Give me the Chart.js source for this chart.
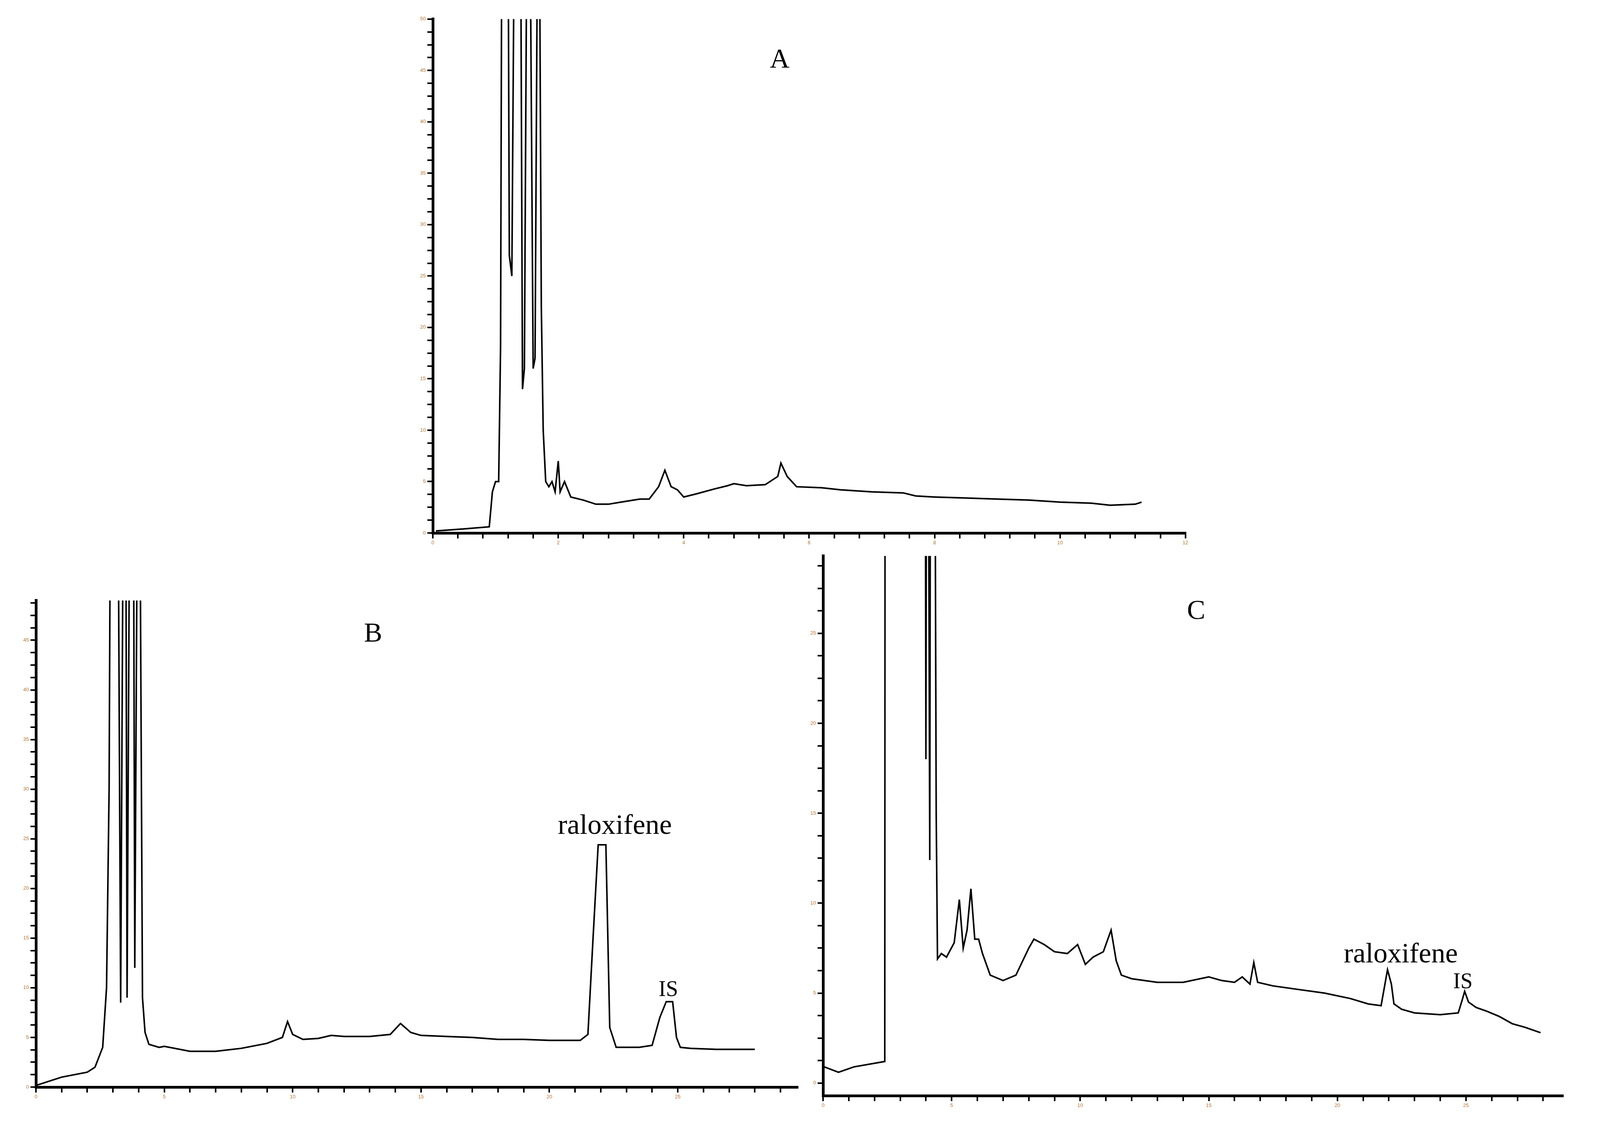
<!DOCTYPE html>
<html><head><meta charset="utf-8">
<script src="https://cdn.jsdelivr.net/npm/chart.js@4"></script>
<style>
body{margin:0;background:#fff;width:4135px;height:2897px;position:relative;overflow:hidden;font-family:"Liberation Serif","DejaVu Serif",serif}
.c{position:absolute}
.t{position:absolute;color:#000;font-family:"Liberation Serif",serif;transform:translate(-50%,-50%);white-space:nowrap}
</style></head><body>
<div class="c" id="wA"><canvas id="cA"></canvas></div>
<div class="c" id="wB"><canvas id="cB"></canvas></div>
<div class="c" id="wC"><canvas id="cC"></canvas></div>
<div class="t" style="left:1996px;top:150px;font-size:70px">A</div>
<div class="t" style="left:955px;top:1619px;font-size:70px">B</div>
<div class="t" style="left:3062px;top:1561px;font-size:70px">C</div>
<div class="t" style="left:1574px;top:2110px;font-size:72px">raloxifene</div>
<div class="t" style="left:1711px;top:2530px;font-size:56px">IS</div>
<div class="t" style="left:3586px;top:2439px;font-size:72px">raloxifene</div>
<div class="t" style="left:3745px;top:2510px;font-size:56px">IS</div>
<script>
const aX=[0.05,0.5,0.9,0.95,1.0,1.05,1.08,1.1,1.2,1.22,1.26,1.3,1.4,1.43,1.46,1.5,1.55,1.6,1.63,1.67,1.7,1.73,1.76,1.8,1.85,1.9,1.95,2.0,2.03,2.1,2.2,2.4,2.6,2.8,3.0,3.3,3.45,3.6,3.7,3.8,3.9,4.0,4.2,4.5,4.7,4.8,5.0,5.3,5.5,5.55,5.65,5.8,6.2,6.5,7.0,7.5,7.7,8.0,8.5,9.0,9.5,10.0,10.5,10.8,11.2,11.3];
const aY=[0.2,0.4,0.6,4,5,5,18,60,60,27,25,60,60,14,16,60,60,16,17,60,60,22,10,5,4.5,5,4,7,4,5,3.5,3.2,2.8,2.8,3.0,3.3,3.3,4.5,6.1,4.5,4.2,3.5,3.8,4.3,4.6,4.8,4.6,4.7,5.5,6.8,5.5,4.5,4.4,4.2,4.0,3.9,3.6,3.5,3.4,3.3,3.2,3.0,2.9,2.7,2.8,3.0];
const bX=[0.05,1,2,2.3,2.6,2.75,2.85,2.9,3.2,3.3,3.4,3.5,3.55,3.65,3.8,3.85,3.95,4.05,4.15,4.25,4.4,4.8,5,6,7,8,9,9.6,9.8,10.0,10.4,11,11.5,12,13,13.8,14.2,14.6,15,16,17,18,19,20,21.2,21.5,21.7,21.9,22.2,22.35,22.6,22.9,23.5,24.0,24.3,24.55,24.8,24.95,25.1,25.5,26.5,27,28.0];
const bY=[0.2,1,1.5,2,4,10,30,60,60,8.5,60,60,9,60,60,12,60,60,9,5.5,4.3,4.0,4.1,3.6,3.6,3.9,4.4,5,6.6,5.3,4.8,4.9,5.2,5.1,5.1,5.3,6.4,5.5,5.2,5.1,5.0,4.8,4.8,4.7,4.7,5.3,15,24.4,24.4,6,4.0,4.0,4.0,4.2,7,8.6,8.6,5,4.0,3.9,3.8,3.8,3.8];
const cX=[0.05,0.6,1.2,2.4,2.42,3.95,4.0,4.05,4.15,4.2,4.3,4.4,4.45,4.6,4.8,5.1,5.3,5.45,5.6,5.75,5.9,6.05,6.2,6.5,7.0,7.5,8.0,8.2,8.6,9.0,9.5,9.9,10.2,10.5,10.9,11.2,11.4,11.6,12,13,14,15,15.5,16,16.3,16.6,16.75,16.9,17.5,18.5,19.5,20.5,21.2,21.7,21.85,21.95,22.1,22.2,22.5,23,24,24.7,24.85,24.95,25.1,25.4,25.8,26.3,26.8,27.3,27.9];
const cY=[0.9,0.6,0.9,1.2,60,60,18,60,12.4,60,60,15,6.9,7.2,7.0,7.8,10.2,7.5,8.5,10.8,8,8.0,7.2,6.0,5.7,6.0,7.5,8.0,7.7,7.3,7.2,7.7,6.6,7.0,7.3,8.5,6.8,6.0,5.8,5.6,5.6,5.9,5.7,5.6,5.9,5.5,6.7,5.6,5.4,5.2,5.0,4.7,4.4,4.3,5.5,6.3,5.5,4.4,4.1,3.9,3.8,3.9,4.6,5.1,4.5,4.2,4.0,3.7,3.3,3.1,2.8];

const YW=60, XH=60;
function place(id,l,t,w,h){const e=document.getElementById(id);e.style.left=(l-YW)+'px';e.style.top=t+'px';e.style.width=(w+YW)+'px';e.style.height=(h+XH)+'px';}
place('wA',1108,37,1938,1327);
place('wB',92,1525,1952,1257);
place('wC',2107,1411,1896,1393);

function axis(min,max,minorStep,labelStep,isY){
  return {type:'linear',min:min,max:max,
    afterFit:s=>{if(isY)s.width=YW;else s.height=XH;},
    afterBuildTicks:s=>{const t=[];const start=Math.ceil((min-1e-9)/minorStep)*minorStep;for(let v=start;v<=max+1e-9;v+=minorStep)t.push({value:+v.toFixed(4)});s.ticks=t;},
    ticks:{autoSkip:false,maxRotation:0,padding:4,color:'#b07030',font:{size:13},callback:v=>{const r=v/labelStep;return Math.abs(r-Math.round(r))<1e-6?String(Math.round(v)):'';}},
    grid:{drawOnChartArea:false,drawTicks:true,tickLength:14,color:'#000',lineWidth:4},
    border:{color:'#000',width:7}};
}
function mk(id,xs,ys,xr,yr){
  new Chart(document.getElementById(id),{type:'line',
    data:{datasets:[{data:xs.map((x,i)=>({x:x,y:ys[i]})),borderColor:'#000',borderWidth:4,pointRadius:0,tension:0,fill:false}]},
    options:{responsive:true,maintainAspectRatio:false,animation:false,layout:{padding:0},
      plugins:{legend:{display:false},tooltip:{enabled:false}},
      scales:{x:axis(xr[0],xr[1],xr[2],xr[3],false),y:axis(yr[0],yr[1],yr[2],yr[3],true)}}});
}
mk('cA',aX,aY,[0,12,0.4,2],[0,50,1.25,5]);
mk('cB',bX,bY,[0,29.7,1,5],[0,49,1.25,5]);
mk('cC',cX,cY,[0,28.8,1,5],[-0.7,29.3,1.25,5]);
</script></body></html>
